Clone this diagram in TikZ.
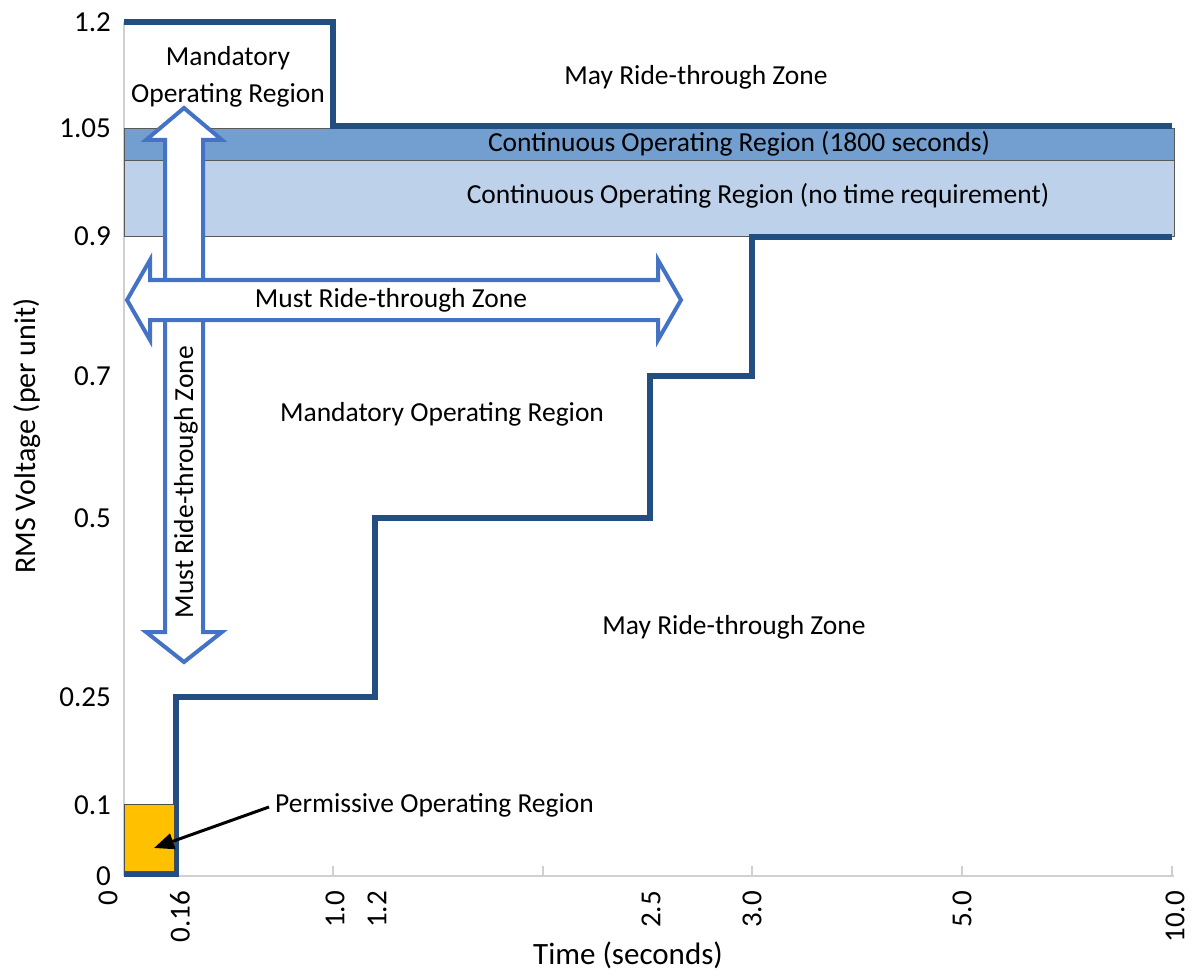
\documentclass[tikz,border=0pt]{standalone}
\usepackage{fontspec}
\setmainfont{Carlito}
\usetikzlibrary{arrows.meta}
\definecolor{stepblue}{HTML}{234E82}
\definecolor{bandA}{HTML}{729FCF}
\definecolor{bandB}{HTML}{BDD1EA}
\definecolor{arrowblue}{HTML}{4472C4}
\definecolor{permfill}{HTML}{FFC000}
\definecolor{axisgray}{HTML}{D0D0D0}
\tikzset{
  lbl/.style={font=\fontsize{27.5}{37}\selectfont, inner sep=0pt, align=center},
  ytick/.style={font=\fontsize{29}{32}\selectfont, inner sep=0pt, anchor=east},
  xtick/.style={font=\fontsize{29}{32}\selectfont, inner sep=0pt, anchor=east, rotate=90},
  stepline/.style={draw=stepblue, line width=6pt, line join=miter},
  blockarrow/.style={draw=arrowblue, line width=4pt, fill=white, line join=miter},
  band/.style={draw=black!65, line width=1pt},
  axisline/.style={draw=axisgray, line width=1.5pt}
}
\begin{document}
\begin{tikzpicture}[x=1pt,y=-1pt]
\useasboundingbox (0,0) rectangle (1196,976);
% axes
\draw[axisline] (124,22) -- (124,876);
\draw[axisline] (124,876) -- (1174,876);
\foreach \tx in {333,543,752,962,1172} \draw[axisline] (\tx,876) -- (\tx,866);
% bands
\node[band, fill=bandB, minimum width=1050pt, minimum height=76pt, inner sep=0pt, anchor=north west] (bandlow) at (124,160) {};
\node[band, fill=bandA, minimum width=1050pt, minimum height=32pt, inner sep=0pt, anchor=north west] (bandhigh) at (124,128) {};
% step lines
\draw[stepline] (124,22) -- (333,22) -- (333,126) -- (1172,126);
\draw[stepline] (124,874) -- (176,874) -- (176,697) -- (375,697) -- (375,518) -- (650,518) -- (650,376) -- (752,376) -- (752,237) -- (1172,237);
% permissive box
\node[draw=black!70, line width=1pt, fill=permfill, minimum width=50pt, minimum height=67pt, inner sep=0pt, anchor=south west] (perm) at (124,872) {};
% vertical block arrow
\draw[blockarrow] (184,108) -- (222,140) -- (203,140) -- (203,632) -- (222,632) -- (184,662) -- (146,632) -- (165,632) -- (165,140) -- (146,140) -- cycle;
% horizontal block arrow
\draw[blockarrow] (127,300) -- (150,260) -- (150,280) -- (658,280) -- (658,260) -- (681,300) -- (658,340) -- (658,320) -- (150,320) -- (150,340) -- cycle;
% labels
\node[lbl] (mandtop) at (228,77) {Mandatory\\Operating Region};
\node[lbl] (maytop) at (696,77) {May Ride-through Zone};
\node[lbl] (cont1800) at (739,144) {Continuous Operating Region (1800 seconds)};
\node[lbl] (contnone) at (758,196) {Continuous Operating Region (no time requirement)};
\node[lbl] (mustH) at (391,300) {Must Ride-through Zone};
\node[lbl, rotate=90] (mustV) at (186,482) {Must Ride-through Zone};
\node[lbl] (mandmid) at (442,414) {Mandatory Operating Region};
\node[lbl] (maybot) at (734,627) {May Ride-through Zone};
\node[lbl, anchor=west] (permlbl) at (275,805) {Permissive Operating Region};
\coordinate (permtip) at (154,848);
\draw[line width=3pt, -{Triangle[length=20pt,width=16pt]}] (permlbl.west) ++(-6,2) -- (permtip);
% y ticks
\node[ytick] (y12) at (111,22) {1.2};
\node[ytick] (y105) at (111,128) {1.05};
\node[ytick] (y09) at (111,236) {0.9};
\node[ytick] (y07) at (111,376) {0.7};
\node[ytick] (y05) at (111,518) {0.5};
\node[ytick] (y025) at (111,697) {0.25};
\node[ytick] (y01) at (111,805) {0.1};
\node[ytick] (y0) at (111,876) {0};
% x ticks
\node[xtick] (x0) at (108,891) {0};
\node[xtick] (x016) at (180,891) {0.16};
\node[xtick] (x10) at (335,891) {1.0};
\node[xtick] (x12) at (377,891) {1.2};
\node[xtick] (x25) at (651,891) {2.5};
\node[xtick] (x30) at (752,891) {3.0};
\node[xtick] (x50) at (962,891) {5.0};
\node[xtick] (x100) at (1175,891) {10.0};
% axis titles
\node[lbl, font=\fontsize{30}{34}\selectfont, rotate=90] (ytitle) at (27,436) {RMS Voltage (per unit)};
\node[lbl, font=\fontsize{31}{34}\selectfont] (xtitle) at (628,955) {Time (seconds)};
\end{tikzpicture}
\end{document}
